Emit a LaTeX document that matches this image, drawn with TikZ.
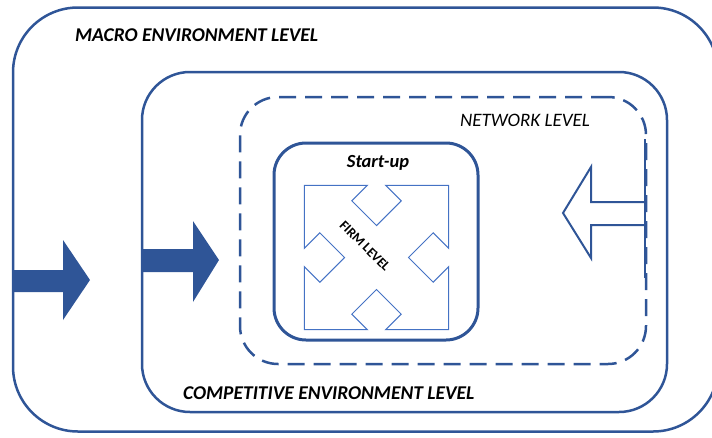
\documentclass[tikz,border=0pt]{standalone}
\usepackage{fontspec}
\setmainfont{Carlito}
\definecolor{ob}{HTML}{2F5597}
\definecolor{lb}{HTML}{4472C4}
\tikzset{
  box/.style={draw=ob, line width=2.5pt, inner sep=0pt, outer sep=0pt},
  dashbox/.style={box, dash pattern=on 17pt off 9pt},
  lbl/.style={inner sep=0pt, anchor=west, font=\fontsize{19.5}{22}\selectfont\bfseries\itshape},
  fillarrow/.style={fill=ob, draw=none},
  hollowarrow/.style={draw=ob, line width=2pt, fill=white, line join=miter},
  quadarrow/.style={draw=lb, line width=1pt, line join=miter}
}
\begin{document}
\begin{tikzpicture}[x=1pt,y=-1pt]
\useasboundingbox (0,0) rectangle (712,437);
\clip (0,0) rectangle (712,437);
% boxes
\node[box, minimum width=705pt, minimum height=424pt, rounded corners=65pt] (macro) at (365.5,219.5) {};
\node[box, minimum width=525pt, minimum height=340pt, rounded corners=48pt] (comp) at (404.5,242) {};
\node[dashbox, minimum width=406pt, minimum height=267pt, rounded corners=38pt] (net) at (443,230.5) {};
\node[box, line width=3pt, minimum width=204pt, minimum height=197pt, rounded corners=32pt] (start) at (376,241.5) {};
% labels
\node[lbl] (macrolbl) at (75,35) {MACRO ENVIRONMENT LEVEL};
\node[lbl] (complbl) at (183,393) {COMPETITIVE ENVIRONMENT LEVEL};
\node[lbl, font=\fontsize{19}{22}\selectfont\itshape] (netlbl) at (460,120) {NETWORK LEVEL};
\node[inner sep=0pt, font=\fontsize{18.5}{22}\selectfont\bfseries\itshape] (startlbl) at (378,163) {Start-up};
% filled arrows
\draw[fillarrow] (13,270) -- (63,270) -- (63,240) -- (90,280) -- (63,320) -- (63,292) -- (13,292) -- cycle;
\draw[fillarrow] (142,249) -- (193,249) -- (193,221) -- (219,260) -- (193,302) -- (193,272) -- (142,272) -- cycle;
% hollow arrow from the right
\draw[hollowarrow] (645,202) -- (591,202) -- (591,167) -- (563,213) -- (591,258) -- (591,225) -- (645,225);
\draw[draw=ob, line width=2pt] (645,139) -- (645,278);
% quad arrow (firm level)
\coordinate (qc) at (376.5,257.5);
\begin{scope}[shift={(qc)}]
\draw[quadarrow] (0,-31.96) -- (24.68,-56.64) -- (9.19,-72.13) -- (72.12,-72.12) -- (72.13,-9.19) -- (56.64,-24.68)
  -- (31.96,0) -- (56.64,24.68) -- (72.13,9.19) -- (72.12,72.12) -- (9.19,72.13) -- (24.68,56.64)
  -- (0,31.96) -- (-24.68,56.64) -- (-9.19,72.13) -- (-72.12,72.12) -- (-72.13,9.19) -- (-56.64,24.68)
  -- (-31.96,0) -- (-56.64,-24.68) -- (-72.13,-9.19) -- (-72.12,-72.12) -- (-9.19,-72.13) -- (-24.68,-56.64) -- cycle;
\end{scope}
\node[inner sep=0pt, rotate=-45, font=\fontsize{13.5}{15}\selectfont\bfseries] (firmlbl) at (365,246) {FIRM LEVEL};
\end{tikzpicture}
\end{document}
